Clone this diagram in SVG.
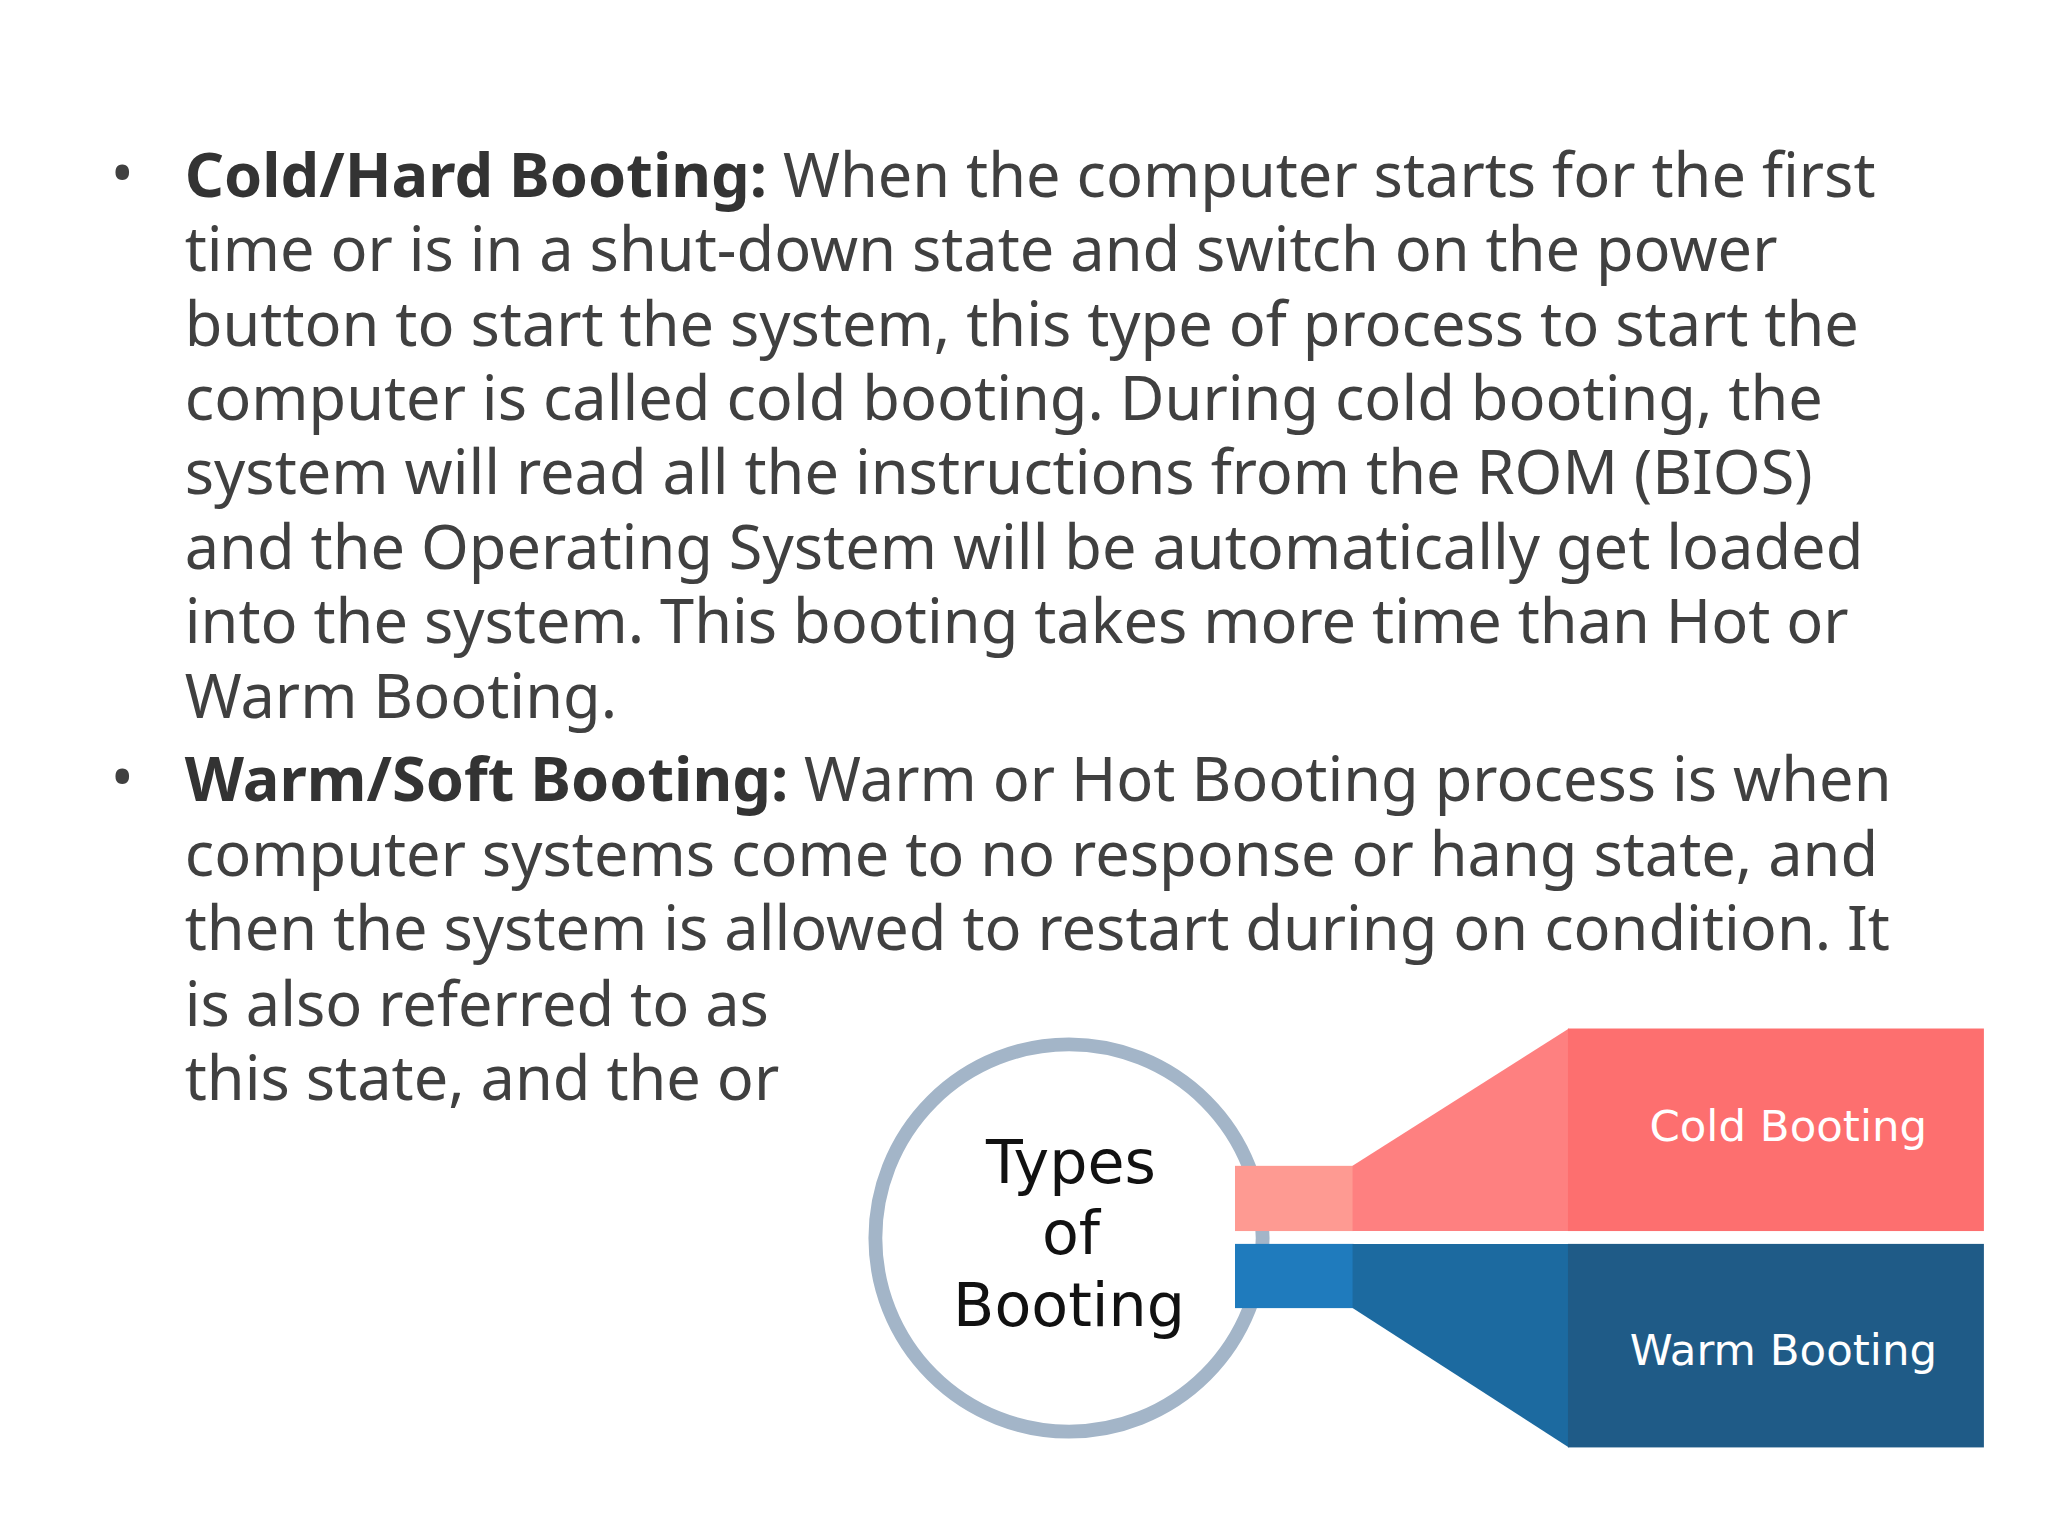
<svg xmlns="http://www.w3.org/2000/svg" width="2048" height="1536" viewBox="0 0 2048 1536">
<style>
.t{font-family:"Noto Sans","Open Sans",sans-serif;font-size:62px;fill:#404040}
.b{font-weight:bold;fill:#333}
.lbl{font-family:"DejaVu Sans","Verdana",sans-serif;font-size:44px;fill:#fff}
.ctr{font-family:"DejaVu Sans","Verdana",sans-serif;font-size:61px;fill:#111;text-anchor:middle}
</style>
<rect width="2048" height="1536" fill="#fff"/>
<g transform="scale(0.988)">
<g id="text">
<text class="t" x="112" y="197">•</text>
<text class="t" x="187" y="199"><tspan class="b">Cold/Hard Booting:</tspan> When the computer starts for the first</text>
<text class="t" x="187" y="274">time or is in a shut-down state and switch on the power</text>
<text class="t" x="187" y="350">button to start the system, this type of process to start the</text>
<text class="t" x="187" y="425">computer is called cold booting. During cold booting, the</text>
<text class="t" x="187" y="500">system will read all the instructions from the ROM (BIOS)</text>
<text class="t" x="187" y="576">and the Operating System will be automatically get loaded</text>
<text class="t" x="187" y="651">into the system. This booting takes more time than Hot or</text>
<text class="t" x="187" y="727">Warm Booting.</text>
<text class="t" x="112" y="809">•</text>
<text class="t" x="187" y="811"><tspan class="b">Warm/Soft Booting:</tspan> Warm or Hot Booting process is when</text>
<text class="t" x="187" y="887">computer systems come to no response or hang state, and</text>
<text class="t" x="187" y="962">then the system is allowed to restart during on condition. It</text>
<text class="t" x="187" y="1038">is also referred to as</text>
<text class="t" x="187" y="1113">this state, and the or</text>
</g>
<rect x="793" y="1002" width="1300" height="560" fill="#fff"/>
<g id="center">
<circle cx="1082" cy="1253" r="196" fill="#fff" stroke="#a3b5c8" stroke-width="14"/>
</g>
<g id="cold">
<rect x="1250" y="1180" width="120" height="66" fill="#fe9a92"/>
<polygon points="1369,1180 1588,1041 1588,1246 1369,1246" fill="#fe8080"/>
<rect x="1587" y="1041" width="421" height="205" fill="#fd6f6f"/>
<text class="lbl" x="1810" y="1155" text-anchor="middle">Cold Booting</text>
</g>
<g id="warm">
<rect x="1250" y="1259" width="120" height="65" fill="#1f7bbd"/>
<polygon points="1369,1259 1588,1259 1588,1465 1369,1324" fill="#1c6aa0"/>
<rect x="1587" y="1259" width="421" height="206" fill="#1f5b87"/>
<text class="lbl" x="1805" y="1382" text-anchor="middle">Warm Booting</text>
</g>
<g id="center-label">
<text class="ctr" x="1084" y="1197">Types</text>
<text class="ctr" x="1084" y="1269">of</text>
<text class="ctr" x="1082" y="1342">Booting</text>
</g>
</g>
</svg>
